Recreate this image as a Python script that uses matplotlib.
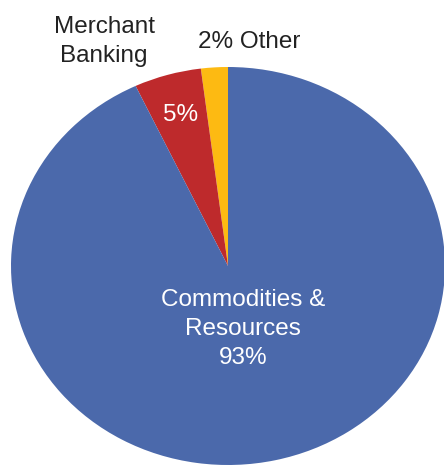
import matplotlib.pyplot as plt

# segment data (counter-clockwise from 12 o'clock)
segments = ['Other', 'Merchant Banking', 'Commodities & Resources']
shares = [2, 5, 93]
colors = ['#FDBA12', '#BE2A2C', '#4B69AB']

plt.rcParams['font.family'] = ['Liberation Sans', 'DejaVu Sans']

fig = plt.figure(figsize=(4.44, 4.66), dpi=100)
W, H = 444, 466
# pie is drawn slightly stretched horizontally in the reference
ax = fig.add_axes([11 / W, 1 / H, 434 / W, 398 / H])

ax.pie(shares, colors=colors, startangle=90, counterclock=True,
       radius=1.0, wedgeprops=dict(linewidth=0))
ax.set_aspect('auto')
ax.set_xlim(-1, 1)
ax.set_ylim(-1, 1)
ax.axis('off')

fs = 17.5
ax.text(-0.571, 1.13, 'Merchant\nBanking', ha='center', va='center',
        fontsize=fs, color='#222222', linespacing=1.42)
ax.text(0.097, 1.126, '2% Other', ha='center', va='center',
        fontsize=fs, color='#222222')
ax.text(-0.217, 0.759, '5%', ha='center', va='center',
        fontsize=fs, color='white')
ax.text(0.069, -0.317, 'Commodities &\nResources\n93%', ha='center',
        va='center', fontsize=fs, color='white', linespacing=1.42)

fig.savefig('out.png', dpi=100)
